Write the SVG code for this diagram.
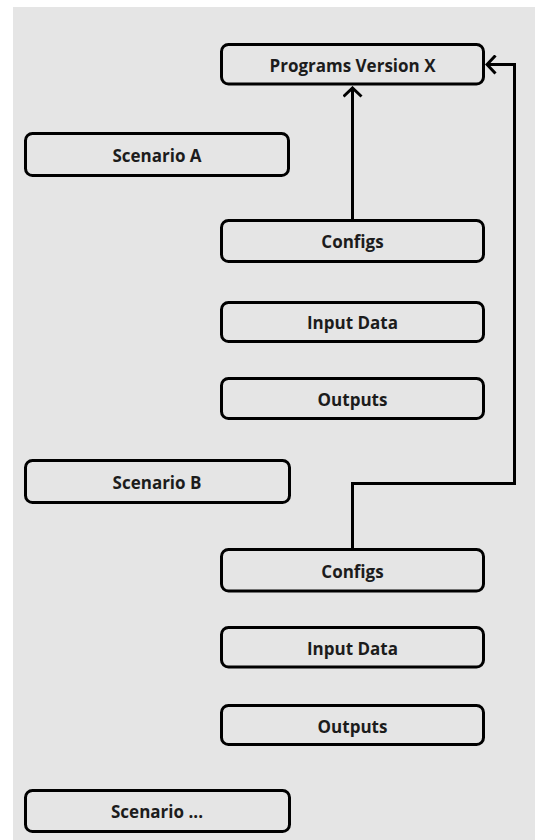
<svg xmlns="http://www.w3.org/2000/svg" width="535" height="840" viewBox="0 0 535 840">
  <style>
    .box { fill: none; stroke: #000; stroke-width: 3; }
    .label { font-family: "Open Sans", "Noto Sans", sans-serif; font-weight: bold; font-size: 17px; fill: #1c1c1c; text-anchor: middle; }
    .link { fill: none; stroke: #000; stroke-width: 3; }
  </style>
  <defs>
    <marker id="chevron" viewBox="0 0 12 20" refX="10" refY="10" markerWidth="12" markerHeight="20" markerUnits="userSpaceOnUse" orient="auto">
      <path d="M1.5,1 L10,10 L1.5,19" fill="none" stroke="#000" stroke-width="3"/>
    </marker>
  </defs>

  <!-- canvas -->
  <rect x="0" y="0" width="535" height="840" fill="#ffffff"/>
  <rect x="13" y="7" width="522" height="833" fill="#e5e5e5"/>

  <!-- connectors -->
  <g id="connectors">
    <path class="link" d="M352.5,220.5 V88" marker-end="url(#chevron)"/>
    <path class="link" d="M352.5,549.5 V483.5 H514.5 V64.5 H487" marker-end="url(#chevron)"/>
  </g>

  <!-- nodes -->
  <g id="programs">
    <rect class="box" x="221.5" y="44.5" width="262" height="39.5" rx="7"/>
    <text class="label" x="352.5" y="71.5">Programs Version X</text>
  </g>

  <g id="scenario-a">
    <rect class="box" x="25.5" y="133.5" width="263" height="42" rx="7"/>
    <text class="label" x="157" y="161.5">Scenario A</text>
  </g>
  <g id="configs-a">
    <rect class="box" x="221.5" y="220.5" width="262" height="41" rx="7"/>
    <text class="label" x="352.5" y="248">Configs</text>
  </g>
  <g id="input-a">
    <rect class="box" x="221.5" y="302.5" width="262" height="39" rx="7"/>
    <text class="label" x="352.5" y="329">Input Data</text>
  </g>
  <g id="outputs-a">
    <rect class="box" x="221.5" y="378.5" width="262" height="40" rx="7"/>
    <text class="label" x="352.5" y="405.5">Outputs</text>
  </g>

  <g id="scenario-b">
    <rect class="box" x="25.5" y="460.5" width="264" height="42" rx="7"/>
    <text class="label" x="157" y="488.5">Scenario B</text>
  </g>
  <g id="configs-b">
    <rect class="box" x="221.5" y="549.5" width="262" height="41.5" rx="7"/>
    <text class="label" x="352.5" y="577.5">Configs</text>
  </g>
  <g id="input-b">
    <rect class="box" x="221.5" y="627.5" width="262" height="39.5" rx="7"/>
    <text class="label" x="352.5" y="654.5">Input Data</text>
  </g>
  <g id="outputs-b">
    <rect class="box" x="221.5" y="705.5" width="262" height="39" rx="7"/>
    <text class="label" x="352.5" y="732.5">Outputs</text>
  </g>

  <g id="scenario-more">
    <rect class="box" x="25.5" y="790.5" width="264" height="41" rx="7"/>
    <text class="label" x="157" y="818">Scenario ...</text>
  </g>
</svg>
